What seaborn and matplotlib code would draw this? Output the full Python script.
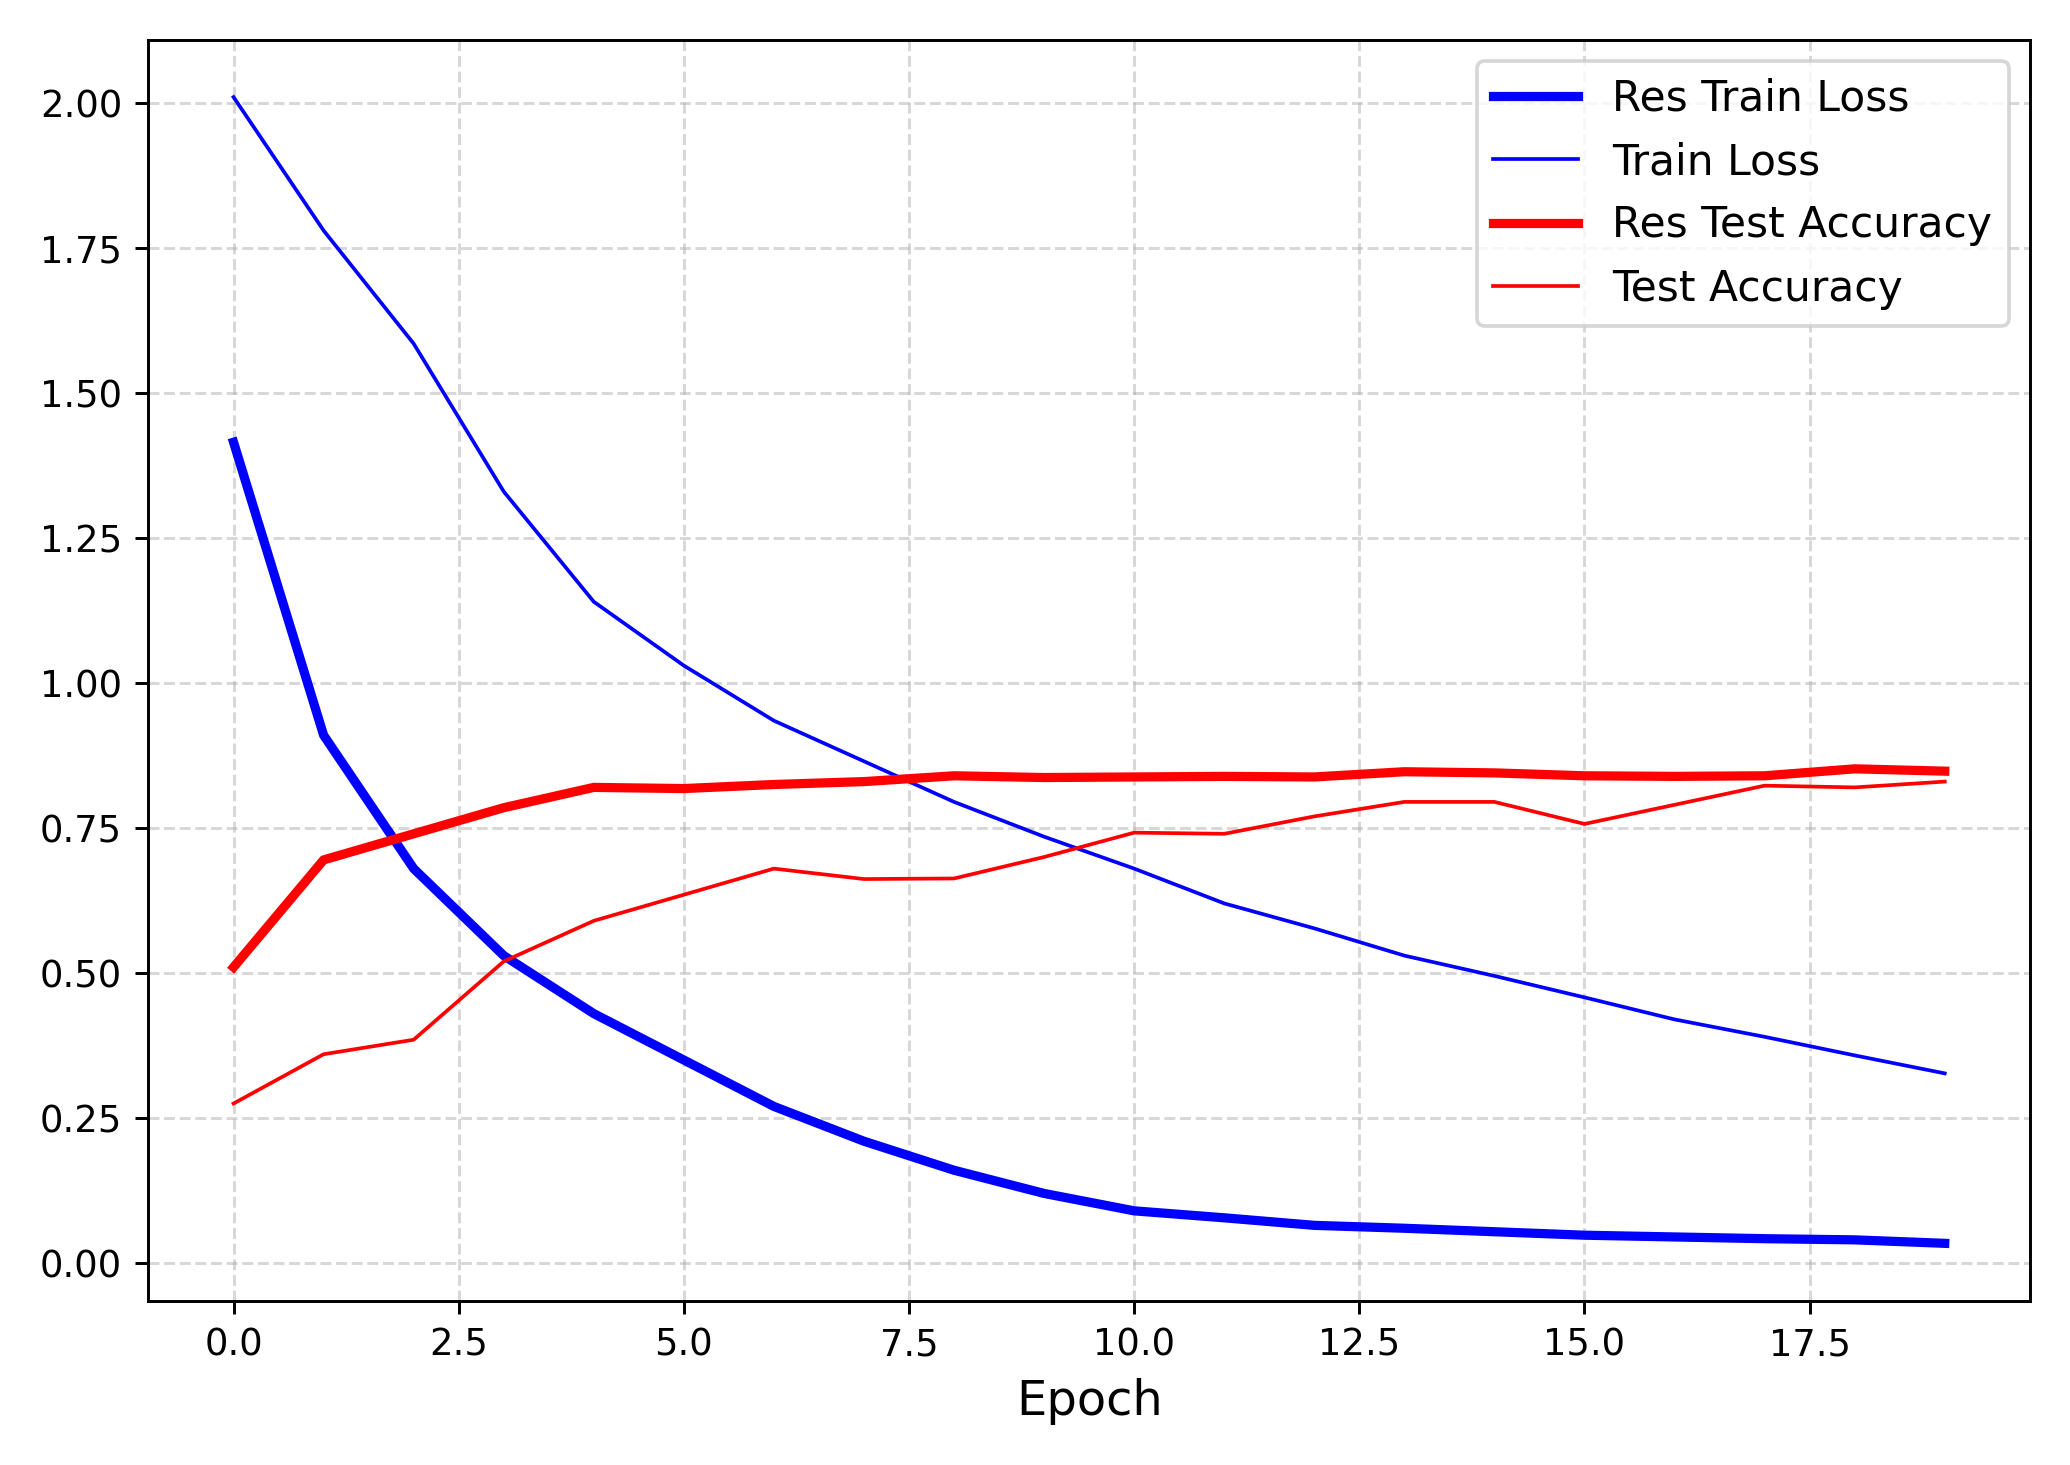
import matplotlib
matplotlib.use("Agg")
import matplotlib.pyplot as plt
import seaborn as sns
import numpy as np

epochs = np.arange(20)
res_train_loss = [1.415, 0.91, 0.68, 0.53, 0.43, 0.35, 0.27, 0.21, 0.16, 0.12,
                  0.09, 0.078, 0.065, 0.06, 0.054, 0.048, 0.045, 0.042, 0.04, 0.034]
train_loss = [2.01, 1.78, 1.585, 1.33, 1.14, 1.03, 0.935, 0.865, 0.795, 0.735,
              0.68, 0.62, 0.577, 0.53, 0.495, 0.458, 0.42, 0.39, 0.358, 0.327]
res_test_acc = [0.51, 0.695, 0.74, 0.785, 0.82, 0.818, 0.825, 0.83, 0.84, 0.837,
                0.838, 0.839, 0.838, 0.847, 0.845, 0.84, 0.839, 0.84, 0.852, 0.848]
test_acc = [0.275, 0.36, 0.385, 0.52, 0.59, 0.635, 0.68, 0.662, 0.663, 0.70,
            0.742, 0.74, 0.77, 0.795, 0.795, 0.757, 0.79, 0.823, 0.82, 0.83]

fig, ax = plt.subplots(figsize=(7.8, 5.52), dpi=265.4)
sns.lineplot(x=epochs, y=res_train_loss, color="blue", linewidth=2.5, label="Res Train Loss", ax=ax)
sns.lineplot(x=epochs, y=train_loss, color="blue", linewidth=1, label="Train Loss", ax=ax)
sns.lineplot(x=epochs, y=res_test_acc, color="red", linewidth=2.5, label="Res Test Accuracy", ax=ax)
sns.lineplot(x=epochs, y=test_acc, color="red", linewidth=1, label="Test Accuracy", ax=ax)

ax.set_xlabel("Epoch", fontsize=13)
ax.tick_params(labelsize=10)
ax.grid(True, linestyle="--", alpha=0.5)
ax.legend(loc="upper right", fontsize=11.5)
plt.tight_layout()
plt.savefig("out.png", dpi=265.4)
